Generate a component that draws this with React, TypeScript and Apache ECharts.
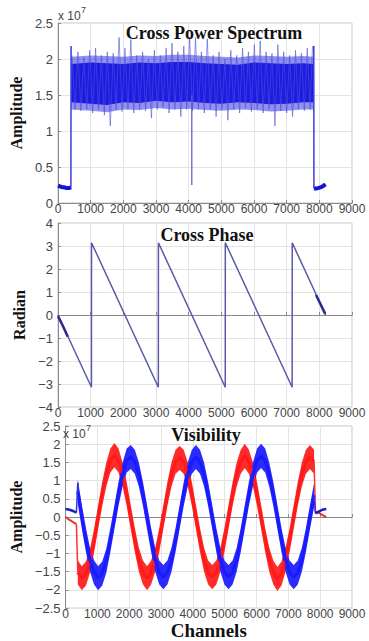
import React, { useEffect, useRef } from "react";
import * as echarts from "echarts";

// ---------- Panel 1: Cross Power Spectrum (units of 1e7) ----------
const specLeftX = [0, 60, 120, 180, 240, 300, 360, 395];
const specLeftY = [0.24, 0.23, 0.22, 0.22, 0.21, 0.21, 0.21, 0.22];
const specRightX = [7835, 7900, 7980, 8060, 8130, 8192];
const specRightY = [0.2, 0.2, 0.21, 0.22, 0.24, 0.26];
const specEdgeX = [395, 400, 405];
const specEdgeY = [0.22, 2.18, 1.6];
const specEdge2X = [7825, 7830, 7835];
const specEdge2Y = [1.6, 2.18, 0.2];
const specDipX = [4090, 4096, 4102];
const specDipY = [1.5, 0.25, 1.5];
const coreX = [405, 1000, 1500, 2000, 2500, 3000, 3500, 4000, 4500, 5000, 5500, 6000, 6500, 7000, 7500, 7825];
const coreLow = [1.4, 1.38, 1.36, 1.4, 1.39, 1.42, 1.4, 1.41, 1.39, 1.38, 1.4, 1.39, 1.37, 1.38, 1.4, 1.4];
const coreHigh = [1.93, 1.95, 1.94, 1.93, 1.95, 1.94, 1.96, 1.96, 1.94, 1.93, 1.92, 1.95, 1.94, 1.93, 1.94, 1.93];
const haloLow = [1.3, 1.28, 1.26, 1.3, 1.29, 1.32, 1.3, 1.31, 1.29, 1.28, 1.3, 1.29, 1.27, 1.28, 1.3, 1.3];
const haloHigh = [2.03, 2.05, 2.04, 2.03, 2.05, 2.04, 2.06, 2.06, 2.04, 2.03, 2.02, 2.05, 2.04, 2.03, 2.04, 2.03];
const spikeX = [430, 520, 610, 700, 790, 880, 970, 1060, 1150, 1240, 1330, 1420, 1510, 1600, 1690, 1780, 1870, 1960, 2050, 2140, 2230, 2320, 2410, 2500, 2590, 2680, 2770, 2860, 2950, 3040, 3130, 3220, 3310, 3400, 3490, 3580, 3670, 3760, 3850, 3940, 4030, 4120, 4210, 4300, 4390, 4480, 4570, 4660, 4750, 4840, 4930, 5020, 5110, 5200, 5290, 5380, 5470, 5560, 5650, 5740, 5830, 5920, 6010, 6100, 6190, 6280, 6370, 6460, 6550, 6640, 6730, 6820, 6910, 7000, 7090, 7180, 7270, 7360, 7450, 7540, 7630, 7720, 7790];
const spikeY = [2.05, 1.3, 2.1, 1.28, 2.02, 1.3, 2.12, 1.25, 2.15, 1.3, 2.05, 1.22, 2.1, 1.07, 2.08, 1.3, 2.3, 1.27, 2.15, 1.3, 2.27, 1.25, 2.05, 1.3, 2.1, 1.28, 2.0, 1.18, 2.12, 1.3, 2.05, 1.33, 2.15, 1.25, 2.22, 1.3, 2.1, 1.2, 2.18, 1.3, 2.3, 1.28, 2.3, 1.3, 2.1, 1.25, 2.28, 1.3, 2.05, 1.2, 2.1, 1.3, 2.0, 1.15, 2.12, 1.3, 2.05, 1.25, 2.15, 1.32, 2.1, 1.27, 2.2, 1.3, 2.25, 1.25, 2.1, 1.3, 2.08, 1.07, 2.2, 1.28, 2.1, 1.25, 2.05, 1.2, 2.12, 1.3, 2.08, 1.28, 2.15, 1.3, 2.18];

// ---------- Panel 2: Cross Phase (radian) ----------
const phaseX = [0, 1024, 1026, 3072, 3074, 5120, 5122, 7168, 7170, 8192];
const phaseY = [0, -3.14, 3.14, -3.14, 3.14, -3.14, 3.14, -3.14, 3.14, 0];
const phaseNoisyLX = [0, 150, 300];
const phaseNoisyLY = [-0.05, -0.48, -0.95];
const phaseNoisyRX = [7900, 8050, 8180];
const phaseNoisyRY = [0.87, 0.43, 0.05];

// ---------- Panel 3: Visibility (units of 1e7) ----------
const visX = [384, 512, 640, 768, 896, 1024, 1152, 1280, 1408, 1536, 1664, 1792, 1920, 2048, 2176, 2304, 2432, 2560, 2688, 2816, 2944, 3072, 3200, 3328, 3456, 3584, 3712, 3840, 3968, 4096, 4224, 4352, 4480, 4608, 4736, 4864, 4992, 5120, 5248, 5376, 5504, 5632, 5760, 5888, 6016, 6144, 6272, 6400, 6528, 6656, 6784, 6912, 7040, 7168, 7296, 7424, 7552, 7680, 7808];
const visRed = [-1.52, -1.68, -1.55, -1.2, -0.65, 0, 0.63, 1.17, 1.55, 1.7, 1.55, 1.17, 0.63, 0, -0.63, -1.17, -1.52, -1.68, -1.52, -1.17, -0.63, 0, 0.63, 1.17, 1.52, 1.62, 1.52, 1.17, 0.63, 0, -0.63, -1.17, -1.52, -1.65, -1.52, -1.17, -0.63, 0, 0.63, 1.17, 1.52, 1.68, 1.52, 1.17, 0.63, 0, -0.63, -1.17, -1.52, -1.7, -1.55, -1.17, -0.63, 0, 0.63, 1.17, 1.52, 1.65, 1.52];
const visBlue = [0.7, 0, -0.63, -1.17, -1.52, -1.68, -1.55, -1.2, -0.63, 0, 0.63, 1.17, 1.55, 1.65, 1.52, 1.17, 0.63, 0, -0.63, -1.17, -1.52, -1.65, -1.52, -1.17, -0.63, 0, 0.63, 1.17, 1.52, 1.65, 1.52, 1.17, 0.63, 0, -0.63, -1.17, -1.52, -1.65, -1.52, -1.17, -0.63, 0, 0.63, 1.17, 1.55, 1.68, 1.55, 1.17, 0.63, 0, -0.63, -1.17, -1.52, -1.65, -1.52, -1.17, -0.63, 0, 0.6];
const visHalfWidth = 0.33;
const redLeftX = [0, 128, 256, 340];
const redLeftY = [0.0, -0.08, -0.15, -0.19];
const blueLeftX = [0, 128, 256, 340];
const blueLeftY = [0.22, 0.2, 0.16, 0.12];
const redRightX = [7850, 7950, 8064, 8192];
const redRightY = [0.15, 0.12, 0.06, 0.0];
const blueRightX = [7850, 7950, 8064, 8192];
const blueRightY = [0.1, 0.15, 0.2, 0.22];

const zip = (xs: number[], ys: number[]) => xs.map((x, i) => [x, ys[i]]);

const SANS = "Liberation Sans, Arial, sans-serif";
const SERIF = "Liberation Serif, Times New Roman, serif";
const minusFmt = (v: number) => String(v).replace("-", "\u2212");

function makeX(gridIndex: number, name?: string) {
  return {
    type: "value",
    gridIndex,
    min: 0,
    max: 9000,
    interval: 1000,
    name: name || "",
    nameLocation: "middle",
    nameGap: 10,
    nameTextStyle: { fontFamily: SERIF, fontWeight: "bold", fontSize: 19, color: "#111" },
    axisLine: { show: true, lineStyle: { color: "#8a8a8a", width: 1 } },
    axisTick: { show: true, inside: true, length: 3, lineStyle: { color: "#8a8a8a" } },
    axisLabel: { fontFamily: SANS, fontSize: 12, color: "#444", margin: 0, formatter: minusFmt },
    splitLine: { show: true, lineStyle: { color: "#e4e4e4", width: 1 } },
  };
}

function makeY(gridIndex: number, min: number, max: number, interval: number, name: string) {
  return {
    type: "value",
    gridIndex,
    min,
    max,
    interval,
    name,
    nameLocation: "middle",
    nameRotate: 90,
    nameGap: 29,
    nameTextStyle: { fontFamily: SERIF, fontWeight: "bold", fontSize: 16, color: "#111" },
    axisLine: { show: true, lineStyle: { color: "#8a8a8a", width: 1 } },
    axisTick: { show: true, inside: true, length: 3, lineStyle: { color: "#8a8a8a" } },
    axisLabel: { fontFamily: SANS, fontSize: 13, color: "#444", margin: 5, formatter: minusFmt },
    splitLine: { show: true, lineStyle: { color: "#e4e4e4", width: 1 } },
  };
}

function lineS(xi: number, data: number[][], color: string, width: number, extra: any = {}) {
  return {
    type: "line",
    xAxisIndex: xi,
    yAxisIndex: xi,
    data,
    symbol: "none",
    silent: true,
    lineStyle: { color, width },
    ...extra,
  };
}

// Filled band between a lower and an upper curve, drawn through the axes' scales.
function bandS(xi: number, xs: number[], low: number[], high: number[], color: string, opacity: number) {
  return {
    type: "custom",
    coordinateSystem: "cartesian2d",
    xAxisIndex: xi,
    yAxisIndex: xi,
    silent: true,
    data: [[xs[0], low[0]]],
    renderItem: (_params: any, api: any) => {
      const pts: number[][] = [];
      for (let i = 0; i < xs.length; i++) pts.push(api.coord([xs[i], high[i]]));
      for (let i = xs.length - 1; i >= 0; i--) pts.push(api.coord([xs[i], low[i]]));
      return {
        type: "polygon",
        shape: { points: pts },
        style: { fill: color, opacity, stroke: "none" },
      };
    },
  };
}

const titleStyle = (text: string) => ({
  text,
  font: `bold 18px ${SERIF}`,
  fill: "#111",
  align: "center",
  verticalAlign: "middle",
  textAlign: "center",
  textVerticalAlign: "middle",
});
const smallStyle = (text: string, size: number) => ({
  text,
  font: `${size}px ${SANS}`,
  fill: "#444",
  align: "left",
  verticalAlign: "middle",
  textAlign: "left",
  textVerticalAlign: "middle",
});

export default function App() {
  const ref = useRef<HTMLDivElement>(null);
  useEffect(() => {
    if (!ref.current) return;
    const chart = echarts.init(ref.current, undefined, { renderer: "svg" });
    const redLow = visRed.map((v) => v - visHalfWidth);
    const redHigh = visRed.map((v) => v + visHalfWidth);
    const blueLow = visBlue.map((v) => v - visHalfWidth);
    const blueHigh = visBlue.map((v) => v + visHalfWidth);
    const grids = [
      { left: 58, top: 23, width: 294, height: 180 },
      { left: 58, top: 223, width: 294, height: 184 },
      { left: 58, top: 426, width: 294, height: 186 },
    ].map((g) => ({ ...g, show: true, borderColor: "#c4c4c4", borderWidth: 1, backgroundColor: "#fff" }));

    const option: any = {
      animation: false,
      backgroundColor: "#ffffff",
      grid: grids,
      xAxis: [makeX(0), makeX(1), makeX(2, "Channels")],
      yAxis: [
        makeY(0, 0, 2.5, 0.5, "Amplitude"),
        makeY(1, -4, 4, 1, "Radian"),
        makeY(2, -2.5, 2.5, 0.5, "Amplitude"),
      ],
      series: [
        // Panel 1
        lineS(0, zip(spikeX, spikeY), "rgba(80,80,215,0.6)", 1),
        bandS(0, coreX, haloLow, haloHigh, "#3434e8", 0.55),
        bandS(0, coreX, coreLow, coreHigh, "#1c1ce2", 1),
        lineS(0, zip(specLeftX, specLeftY), "#1212d8", 4),
        lineS(0, zip(specRightX, specRightY), "#1212d8", 4),
        lineS(0, zip(specEdgeX, specEdgeY), "#3a3ae0", 1.5),
        lineS(0, zip(specEdge2X, specEdge2Y), "#3a3ae0", 1.5),
        lineS(0, zip(specDipX, specDipY), "rgba(90,90,200,0.8)", 1),
        // Panel 2
        lineS(1, zip(phaseX, phaseY), "#5a5aa8", 1.5),
        lineS(1, zip(phaseNoisyLX, phaseNoisyLY), "#2a2a90", 2.5),
        lineS(1, zip(phaseNoisyRX, phaseNoisyRY), "#2a2a90", 2.5),
        // Panel 3
        bandS(2, visX, redLow, redHigh, "#ff2020", 0.95),
        lineS(2, zip(visX, visRed), "#ff1a1a", 3),
        lineS(2, [[340, -0.19], [384, -1.52]], "#ff3030", 1.5),
        lineS(2, [[7808, 1.52], [7850, 0.15]], "#ff3030", 1.5),
        lineS(2, zip(redLeftX, redLeftY), "#e03030", 2),
        lineS(2, zip(redRightX, redRightY), "#e03030", 2),
        bandS(2, visX, blueLow, blueHigh, "#2020ff", 0.95),
        lineS(2, zip(visX, visBlue), "#1a1aff", 3),
        lineS(2, [[340, 0.12], [384, 0.95], [400, 0.7]], "#3030f0", 1.5),
        lineS(2, [[7808, 0.6], [7850, 0.1]], "#3030f0", 1.5),
        lineS(2, zip(blueLeftX, blueLeftY), "#2020c0", 2.5),
        lineS(2, zip(blueRightX, blueRightY), "#2020c0", 2.5),
      ],
      graphic: [
        { type: "text", x: 214, y: 33, z: 100, style: titleStyle("Cross Power Spectrum") },
        { type: "text", x: 207, y: 235, z: 100, style: titleStyle("Cross Phase") },
        { type: "text", x: 206, y: 435, z: 100, style: titleStyle("Visibility") },
        { type: "text", x: 58, y: 16, z: 100, style: smallStyle("x 10", 12) },
        { type: "text", x: 81, y: 10, z: 100, style: smallStyle("7", 9) },
        { type: "text", x: 63, y: 434, z: 100, style: smallStyle("x 10", 12) },
        { type: "text", x: 86, y: 428, z: 100, style: smallStyle("7", 9) },
      ],
    };
    chart.setOption(option);
    return () => chart.dispose();
  }, []);
  return <div ref={ref} style={{ position: "fixed", left: 0, top: 0, width: 369, height: 641, background: "#fff" }} />;
}
